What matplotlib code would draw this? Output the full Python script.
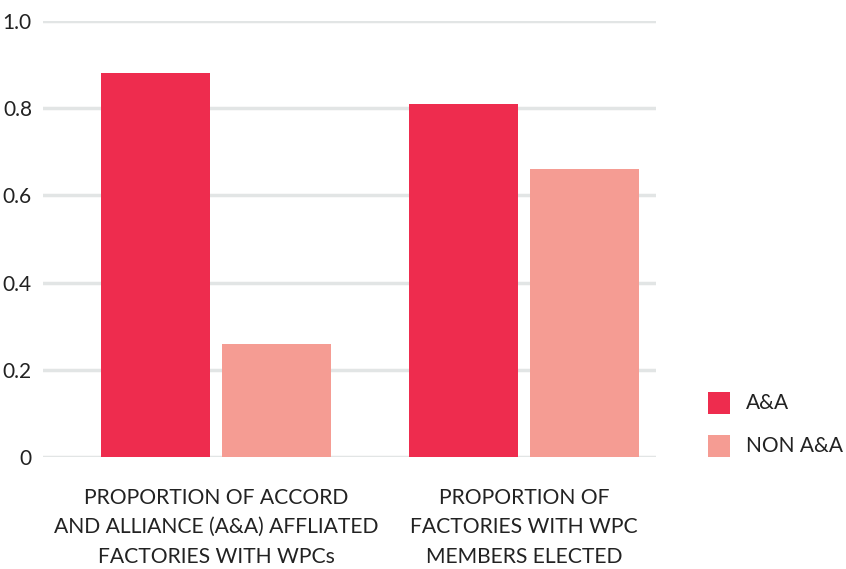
import matplotlib
matplotlib.use("Agg")
import matplotlib.pyplot as plt
from matplotlib.patches import Rectangle
import numpy as np

plt.rcParams['font.family'] = ['Lato', 'DejaVu Sans']

categories = ["PROPORTION OF ACCORD\nAND ALLIANCE (A&A) AFFLIATED\nFACTORIES WITH WPCs",
              "PROPORTION OF\nFACTORIES WITH WPC\nMEMBERS ELECTED"]
series_names = ["A&A", "NON A&A"]
aa_values = [0.88, 0.81]
non_aa_values = [0.26, 0.66]
y_ticks = [0, 0.2, 0.4, 0.6, 0.8, 1.0]
y_tick_labels = ["0", "0.2", "0.4", "0.6", "0.8", "1.0"]

colors = ["#EE2C4E", "#F59C93"]
text_color = "#222222"
grid_color = "#E2E5E5"

W, H = 846, 569
fig = plt.figure(figsize=(W/100, H/100), dpi=100)
ax = fig.add_axes([43/W, 1-457/H, (656-43)/W, (457-21)/H])

x = np.arange(len(categories))
width = 0.355
offset = 0.196
ax.bar(x - offset, aa_values, width, color=colors[0], zorder=3)
ax.bar(x + offset, non_aa_values, width, color=colors[1], zorder=3)

ax.set_xlim(-0.562, 1.4286)
ax.set_ylim(0, 1.0)
ax.set_yticks(y_ticks)
ax.set_yticklabels(y_tick_labels)
ax.set_xticks(x)
ax.set_xticklabels(categories, linespacing=1.6)
ax.tick_params(axis='both', length=0, colors=text_color)
ax.tick_params(axis='x', pad=22, labelsize=15.2)
ax.tick_params(axis='y', pad=8, labelsize=15)
for s in ax.spines.values():
    s.set_visible(False)
ax.yaxis.grid(True, color=grid_color, linewidth=2.5, zorder=0)
ax.set_axisbelow(True)

# legend drawn manually in figure pixel coordinates
leg_y_centers = [403, 446]
for name, col, yc in zip(series_names, colors, leg_y_centers):
    fig.patches.append(Rectangle((708/W, 1-(yc+11)/H), 22/W, 22/H,
                                 transform=fig.transFigure, facecolor=col,
                                 edgecolor='none'))
    fig.text(746/W, 1-yc/H, name, fontsize=15, color=text_color,
             ha='left', va='center')

fig.savefig("out.png", dpi=100)
